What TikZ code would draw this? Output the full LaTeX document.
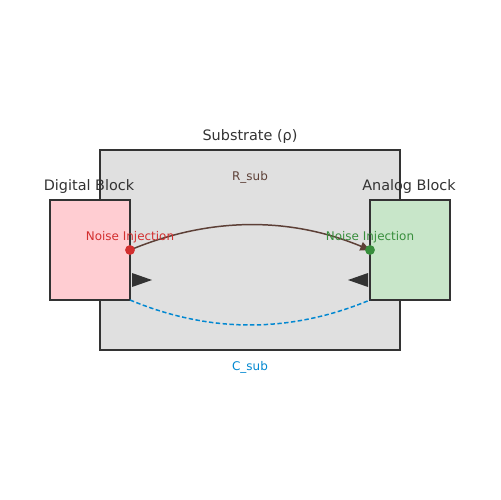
\documentclass[tikz,border=0pt]{standalone}
\usepackage{fontspec}
\setmainfont{DejaVu Sans}
\usetikzlibrary{arrows.meta}
\definecolor{bord}{HTML}{333333}
\definecolor{subfill}{HTML}{E0E0E0}
\definecolor{digfill}{HTML}{FFCDD2}
\definecolor{anafill}{HTML}{C8E6C9}
\definecolor{rcol}{HTML}{5D4037}
\definecolor{ccol}{HTML}{0288D1}
\definecolor{redc}{HTML}{D32F2F}
\definecolor{greenc}{HTML}{388E3C}
\tikzset{
  blockbox/.style={draw=bord, line width=1.1pt, inner sep=0pt},
  titletext/.style={text=bord, font=\fontsize{8.2}{10}\selectfont, inner sep=0pt},
  smalltext/.style={font=\fontsize{6.8}{8}\selectfont, inner sep=0pt},
  dot/.style={circle, inner sep=0pt, minimum size=5.6pt},
}
\begin{document}
\begin{tikzpicture}[x=0.02cm,y=-0.02cm]
\useasboundingbox (0,0) rectangle (500,500);
\fill[white] (0,0) rectangle (500,500);
% substrate
\node[blockbox, fill=subfill, minimum width=300*0.02cm, minimum height=200*0.02cm] (sub) at (250,250) {};
\node[titletext] (subt) at (250,136.5) {Substrate (ρ)};
% blocks
\node[blockbox, fill=digfill, minimum width=80*0.02cm, minimum height=100*0.02cm] (dig) at (90,250) {};
\node[blockbox, fill=anafill, minimum width=80*0.02cm, minimum height=100*0.02cm] (ana) at (410,250) {};
\node[titletext] (digt) at (89,186.5) {Digital Block};
\node[titletext] (anat) at (409,186.5) {Analog Block};
% injection points
\coordinate (pd) at (130,250);
\coordinate (pa) at (370,250);
\coordinate (cd) at (130,300);
\coordinate (ca) at (370,300);
% R_sub
\draw[rcol, line width=0.85pt, -{Triangle[length=5.5pt,width=5pt]}] (pd) .. controls (210,216.7) and (290,216.7) .. (pa);
\node[smalltext, text=rcol] (rl) at (250,177) {R\_sub};
% C_sub
\draw[ccol, line width=0.85pt, dash pattern=on 2.5pt off 1.4pt] (cd) .. controls (210,333.3) and (290,333.3) .. (ca);
\node[smalltext, text=ccol] (cl) at (250,367) {C\_sub};
% dots
\node[dot, fill=redc] (rd) at (pd) {};
\node[dot, fill=greenc] (gd) at (pa) {};
\node[smalltext, text=redc] (nl) at (130,237) {Noise Injection};
\node[smalltext, text=greenc] (nr) at (370,237) {Noise Injection};
% black triangles
\fill[bord] (132,273) -- (152,280) -- (132,287) -- cycle;
\fill[bord] (368,273) -- (348,280) -- (368,287) -- cycle;
\end{tikzpicture}
\end{document}
